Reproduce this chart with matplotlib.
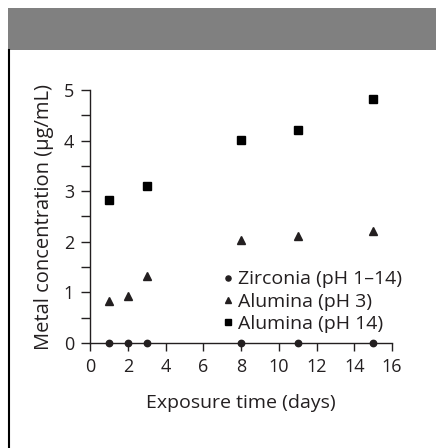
import matplotlib.pyplot as plt
from matplotlib.patches import Rectangle
from matplotlib.lines import Line2D

# data
zr_days = [1, 2, 3, 8, 11, 15]
zr_conc = [0, 0, 0, 0, 0, 0]

al3_days = [1, 2, 3, 8, 11, 15]
al3_conc = [0.83, 0.93, 1.33, 2.03, 2.12, 2.21]

al14_days = [1, 3, 8, 11, 15]
al14_conc = [2.82, 3.1, 4.02, 4.2, 4.82]

labels = ["Zirconia (pH 1\u201314)", "Alumina (pH 3)", "Alumina (pH 14)"]

plt.rcParams['font.family'] = ['Open Sans', 'DejaVu Sans']
txt = '#231f20'

fig = plt.figure(figsize=(4.36, 4.48), dpi=100)

# grey header band and left border line
fig.patches.append(Rectangle((8/436, 1-50/448), 1, 42/448, transform=fig.transFigure,
                             facecolor='#808080', edgecolor='none'))
fig.lines.append(Line2D([8.5/436, 8.5/436], [0, 1-50/448], transform=fig.transFigure,
                        color='black', lw=1.5))

ax = fig.add_axes([90/436, 1-343/448, 302/436, 253/448])

ax.plot(zr_days, zr_conc, 'o', color=txt, ms=4.6, clip_on=False, label=labels[0])
ax.plot(al3_days, al3_conc, '^', color=txt, ms=6.2, clip_on=False, label=labels[1])
ax.plot(al14_days, al14_conc, 's', color='black', ms=5.4, clip_on=False, label=labels[2])

ax.set_xlim(0, 16)
ax.set_ylim(0, 5)
ax.set_xticks(range(0, 17, 2))
ax.set_yticks(range(0, 6))
ax.set_yticks([i + 0.5 for i in range(5)], minor=True)

for s in ['top', 'right']:
    ax.spines[s].set_visible(False)
for s in ['left', 'bottom']:
    ax.spines[s].set_color(txt)
    ax.spines[s].set_linewidth(1.0)

ax.tick_params(axis='both', which='both', direction='out', color=txt, labelcolor=txt,
               labelsize=13, width=1.0)
ax.tick_params(axis='y', which='both', length=6.5, pad=5)
ax.tick_params(axis='x', which='major', length=6, pad=5)

ax.set_xlabel("Exposure time (days)", fontsize=14, color=txt, labelpad=13)
ax.set_ylabel("Metal concentration (\u03bcg/mL)", fontsize=14.5, color=txt, labelpad=7)

ax.legend(loc='lower left', bbox_to_anchor=(224/436, 1-333/448), bbox_transform=fig.transFigure,
          frameon=False, fontsize=14, handlelength=0.4, handletextpad=0.3,
          labelspacing=0.22, borderpad=0, borderaxespad=0, markerscale=0.8,
          labelcolor=txt)

fig.savefig('out.png', dpi=100)
